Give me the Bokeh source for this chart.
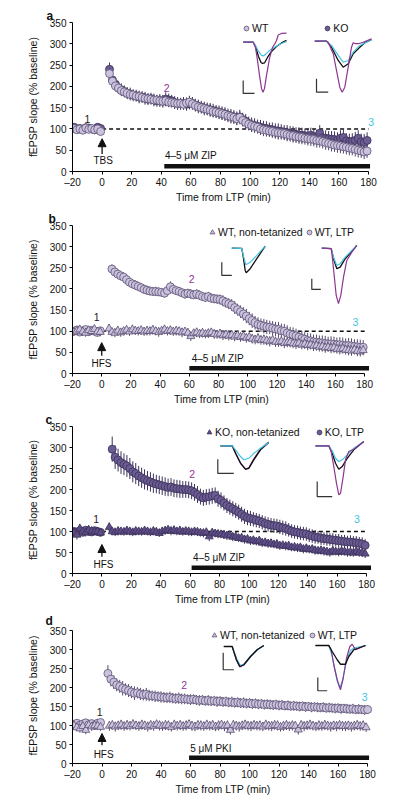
from bokeh.plotting import figure
from bokeh.layouts import column
from bokeh.models import (Range1d, FixedTicker, Label, Legend, LegendItem,
                          Arrow, NormalHead, ColumnDataSource)
from bokeh.embed import file_html
from bokeh.resources import INLINE

FONT = "Liberation Sans"

# ---------------- axes / sampling grids ----------------
X_TICKS = [-20, 0, 20, 40, 60, 80, 100, 120, 140, 160, 180]
Y_TICKS = [0, 50, 100, 150, 200, 250, 300, 350]
BASE_T = list(range(-19, 0, 2))          # baseline sample times (min)
POST_T5 = list(range(5, 180, 2))         # post-stimulus sample times
POST_T7 = list(range(7, 180, 2))
POST_T4 = list(range(4, 181, 2))
STIM_T = 0
BASELINE = 100

# ---------------- panel a: WT vs KO, TBS + ZIP ----------------
a_wt_base = [101, 98, 100, 97, 102, 99, 101, 98, 100, 94]
a_wt_post = [230, 212, 201, 196, 190, 187, 184, 181, 180, 177,
             176, 174, 172, 171, 170, 168, 168, 166, 165, 166,
             163, 162, 161, 160, 160, 158, 161, 163, 159, 155,
             152, 150, 148, 146, 144, 141, 140, 138, 136, 134,
             131, 129, 127, 124, 127, 120, 115, 111, 108, 106,
             104, 100, 98, 97, 95, 94, 92, 91, 90, 89,
             87, 85, 84, 82, 81, 80, 78, 77, 76, 75,
             73, 72, 70, 68, 66, 64, 62, 61, 60, 58,
             57, 55, 54, 52, 50, 48, 46, 48]
a_wt_err = [8, 7, 9, 7, 8, 7, 8, 8, 7, 9,
            14, 13, 12, 12, 12, 11, 12, 11, 12, 11,
            12, 11, 12, 12, 11, 12, 12, 13, 12, 13,
            12, 12, 13, 12, 13, 12, 13, 13, 12, 13,
            13, 12, 13, 13, 14, 13, 14, 13, 14, 14,
            13, 14, 14, 15, 14, 14, 15, 14, 15, 14,
            15, 14, 15, 15, 14, 15, 15, 16, 15, 15,
            16, 15, 16, 15, 16, 16, 15, 16, 16, 16,
            17, 16, 16, 17, 16, 17, 16, 17, 17, 16,
            17, 17, 16, 17, 17, 16, 17, 16]
a_ko_base = [104, 100, 101, 99, 103, 102, 100, 98, 104, 101]
a_ko_post = [240, 215, 205, 196, 192, 188, 184, 182, 179, 178,
             175, 175, 172, 170, 171, 168, 166, 167, 165, 170,
             168, 166, 162, 160, 159, 160, 158, 162, 160, 156,
             153, 151, 148, 147, 145, 143, 141, 139, 137, 135,
             132, 130, 128, 125, 128, 122, 118, 113, 110, 108,
             106, 104, 102, 101, 99, 98, 96, 95, 94, 92,
             91, 90, 88, 87, 86, 85, 84, 83, 85, 82,
             80, 90, 79, 78, 77, 76, 75, 74, 78, 80,
             72, 70, 71, 73, 78, 70, 68, 73]
a_ko_err = [9, 8, 10, 8, 9, 8, 9, 10, 8, 10,
            16, 15, 14, 14, 15, 14, 14, 15, 14, 14,
            15, 14, 15, 14, 14, 15, 14, 15, 15, 16,
            15, 14, 15, 15, 14, 15, 15, 16, 15, 15,
            16, 15, 16, 15, 16, 16, 15, 16, 16, 16,
            16, 17, 16, 16, 17, 16, 17, 16, 17, 17,
            16, 17, 17, 17, 16, 17, 17, 18, 17, 17,
            18, 17, 18, 17, 18, 18, 17, 18, 18, 19,
            18, 19, 18, 19, 18, 19, 19, 18, 19, 19,
            18, 19, 19, 20, 19, 19, 20, 19]

# ---------------- panel b: WT, HFS + ZIP ----------------
b_ltp_base = [100, 103, 98, 101, 104, 99, 102, 100, 97, 101]
b_ltp_post = [247, 240, 235, 231, 228, 222, 216, 212, 209, 206,
              203, 199, 197, 195, 194, 194, 193, 192, 190, 196,
              205, 199, 196, 194, 191, 188, 190, 188, 186, 188,
              185, 182, 180, 182, 178, 177, 176, 175, 172, 168,
              165, 162, 156, 151, 146, 141, 136, 130, 125, 120,
              116, 114, 112, 110, 109, 107, 105, 104, 101, 100,
              96, 93, 91, 89, 86, 83, 81, 78, 77, 75,
              74, 73, 72, 71, 70, 70, 69, 68, 68, 67,
              66, 66, 65, 64, 63, 62, 62]
b_ltp_err = [8, 9, 8, 9, 8, 9, 8, 9, 8, 9,
             11, 11, 10, 10, 11, 10, 10, 10, 11, 10,
             10, 10, 11, 10, 10, 11, 10, 10, 11, 12,
             13, 11, 10, 11, 10, 11, 10, 11, 10, 11,
             11, 10, 11, 11, 10, 11, 11, 12, 13, 12,
             13, 14, 15, 14, 15, 16, 17, 16, 17, 16,
             17, 16, 17, 17, 16, 17, 17, 18, 17, 17,
             18, 17, 18, 17, 17, 18, 17, 18, 18, 17,
             18, 17, 18, 18, 17, 18, 18, 17, 18, 18,
             17, 18, 18, 17, 18, 18, 17]
b_nt_base = [98, 101, 104, 99, 96, 102, 100, 105, 99, 98]
b_nt_post = [106, 98, 96, 101, 97, 100, 103, 99, 104, 101,
             100, 102, 99, 101, 100, 103, 100, 98, 101, 104,
             100, 102, 99, 101, 100, 97, 99, 96, 88, 95,
             97, 94, 96, 93, 95, 97, 93, 92, 94, 90,
             92, 89, 91, 87, 90, 86, 88, 84, 86, 82,
             80, 83, 79, 80, 78, 76, 79, 75, 74, 76,
             72, 73, 74, 71, 70, 72, 68, 70, 67, 68,
             65, 66, 63, 64, 61, 62, 60, 61, 58, 57,
             59, 56, 55, 54, 56, 53, 52, 55]
b_nt_err = [9, 10, 9, 10, 9, 10, 9, 10, 9, 10,
            11, 10, 10, 11, 10, 10, 11, 10, 11, 10,
            10, 11, 10, 11, 10, 11, 10, 11, 10, 11,
            10, 11, 10, 11, 10, 11, 10, 11, 11, 10,
            11, 10, 11, 10, 11, 10, 11, 10, 11, 11,
            11, 11, 11, 11, 11, 11, 11, 11, 11, 11,
            11, 12, 11, 12, 11, 12, 11, 12, 11, 12,
            12, 11, 12, 11, 12, 12, 11, 12, 12, 11,
            12, 12, 11, 12, 12, 11, 12, 12, 11, 12,
            12, 11, 12, 12, 11, 12, 12, 12]

# ---------------- panel c: KO, HFS + ZIP ----------------
c_ltp_base = [100, 99, 101, 98, 103, 100, 99, 102, 100, 98]
c_ltp_post = [296, 277, 270, 264, 260, 256, 250, 242, 238, 232,
              228, 224, 221, 218, 215, 213, 211, 209, 207, 205,
              206, 203, 202, 201, 200, 200, 199, 197, 193, 188,
              183, 180, 182, 183, 185, 186, 178, 174, 168, 162,
              158, 154, 150, 146, 141, 136, 133, 131, 129, 127,
              125, 122, 119, 117, 115, 114, 113, 111, 109, 107,
              104, 101, 99, 98, 96, 95, 94, 91, 89, 87,
              86, 84, 83, 82, 81, 80, 79, 78, 77, 76,
              75, 75, 74, 73, 72, 70, 67]
c_ltp_err = [9, 8, 9, 8, 9, 8, 9, 8, 9, 8,
             30, 28, 27, 27, 26, 26, 25, 25, 25, 24,
             24, 24, 23, 23, 23, 22, 22, 22, 22, 21,
             21, 21, 21, 21, 20, 20, 20, 20, 20, 20,
             19, 19, 19, 19, 19, 19, 19, 19, 18, 18,
             18, 18, 18, 18, 18, 18, 18, 18, 17, 17,
             17, 17, 17, 17, 17, 17, 17, 17, 17, 17,
             16, 16, 16, 16, 16, 16, 16, 16, 16, 16,
             15, 16, 15, 16, 15, 16, 15, 16, 15, 16,
             15, 16, 15, 16, 15, 16, 15]
c_nt_base = [97, 92, 107, 100, 98, 104, 101, 99, 100, 97]
c_nt_post = [110, 100, 98, 101, 100, 99, 102, 100, 98, 101,
             100, 99, 102, 100, 98, 101, 99, 96, 100, 102,
             104, 101, 103, 100, 102, 99, 101, 100, 98, 100,
             99, 97, 96, 98, 88, 97, 95, 94, 93, 92,
             90, 91, 87, 88, 84, 85, 81, 82, 78, 79,
             76, 78, 73, 74, 71, 72, 69, 70, 66, 67,
             65, 66, 62, 63, 61, 62, 58, 60, 57, 58,
             55, 54, 55, 53, 52, 50, 54, 52, 51, 53,
             52, 50, 51, 49, 53, 50, 49, 47]
c_nt_err = [8, 11, 9, 8, 10, 8, 9, 8, 9, 8,
            11, 9, 9, 10, 9, 9, 10, 9, 9, 10,
            9, 9, 10, 9, 9, 10, 9, 9, 10, 9,
            9, 10, 9, 9, 10, 9, 9, 10, 9, 9,
            10, 9, 10, 9, 11, 10, 9, 10, 9, 10,
            10, 9, 10, 10, 9, 10, 10, 9, 10, 10,
            9, 10, 10, 9, 10, 10, 9, 10, 10, 9,
            10, 10, 9, 10, 10, 9, 10, 10, 9, 10,
            10, 9, 10, 10, 9, 10, 10, 9, 10, 10,
            9, 10, 10, 9, 10, 10, 9, 10]

# ---------------- panel d: WT, HFS + PKI ----------------
d_ltp_base = [103, 106, 101, 104, 107, 102, 105, 100, 106, 108]
d_ltp_post = [237, 222, 214, 207, 203, 198, 195, 192, 188, 185,
              186, 183, 181, 182, 179, 178, 177, 176, 175, 174,
              173, 174, 172, 171, 172, 170, 170, 169, 168, 169,
              167, 166, 167, 165, 166, 164, 165, 163, 164, 162,
              163, 161, 162, 160, 161, 159, 160, 158, 159, 157,
              158, 156, 157, 155, 156, 155, 154, 155, 153, 154,
              152, 153, 151, 152, 151, 150, 151, 149, 150, 148,
              149, 148, 147, 148, 146, 147, 146, 145, 146, 144,
              145, 144, 143, 144, 142, 143, 142, 141, 142]
d_ltp_err = [10, 9, 10, 9, 10, 9, 10, 9, 10, 9,
             22, 19, 18, 17, 17, 19, 16, 17, 16, 18,
             15, 16, 15, 17, 15, 14, 15, 14, 15, 14,
             14, 15, 14, 14, 15, 14, 14, 13, 14, 13,
             13, 14, 13, 13, 14, 13, 13, 14, 13, 13,
             13, 13, 14, 13, 13, 13, 14, 13, 13, 13,
             13, 13, 13, 13, 13, 13, 13, 13, 13, 13,
             12, 13, 12, 13, 12, 13, 12, 13, 12, 13,
             12, 13, 12, 13, 12, 13, 12, 13, 12, 13,
             12, 13, 12, 13, 12, 13, 12, 13, 12]
d_nt_base = [100, 95, 92, 98, 88, 101, 97, 100, 99, 96]
d_nt_post = [99, 101, 97, 100, 102, 98, 101, 99, 103, 100,
             98, 102, 100, 97, 101, 99, 103, 100, 98, 101,
             100, 96, 102, 99, 101, 98, 100, 103, 99, 97,
             101, 100, 98, 102, 99, 101, 97, 100, 102, 98,
             100, 88, 101, 99, 97, 100, 102, 99, 98, 101,
             99, 100, 97, 102, 99, 98, 101, 100, 96, 99,
             101, 98, 100, 99, 89, 101, 98, 100, 102, 99,
             97, 100, 98, 101, 99, 97, 100, 98, 101, 99,
             98, 100, 97, 99, 101, 98, 100, 95]
d_nt_err = [11, 10, 11, 10, 11, 10, 11, 10, 11, 10,
            13, 12, 13, 12, 13, 12, 13, 12, 13, 12,
            12, 13, 12, 13, 12, 13, 12, 13, 12, 13,
            13, 12, 13, 12, 13, 12, 13, 12, 13, 12,
            12, 13, 12, 13, 12, 13, 12, 13, 12, 13,
            13, 12, 13, 12, 13, 12, 13, 12, 13, 12,
            12, 13, 12, 13, 12, 13, 12, 13, 12, 13,
            13, 12, 13, 12, 13, 12, 13, 12, 13, 12,
            12, 13, 12, 13, 12, 13, 12, 13, 12, 13,
            13, 12, 13, 12, 13, 12, 13, 12]

# ---------------- drug application windows (min) ----------------
a_drug = (42, 181)
b_drug = (60, 183)
c_drug = (61, 183)
d_drug = (59, 181)

# ---------------- example fEPSP traces (ms, mV) ----------------
A_WT = {
    "black": ([0, 2.0, 2.46, 3.06, 3.56, 3.86, 4.26, 4.86, 5.66, 6.66, 7.66, 8.66],
              [0, 0, -0.17, -0.57, -0.81, -0.85, -0.83, -0.61, -0.37, -0.17, -0.03, 0.07]),
    "cyan": ([0, 2.0, 2.46, 3.06, 3.66, 4.06, 4.66, 5.26, 6.06, 6.86, 7.66, 8.66],
             [0, 0, -0.13, -0.37, -0.53, -0.55, -0.45, -0.33, -0.23, -0.13, -0.05, 0.03]),
    "purple": ([0, 2.0, 2.46, 2.86, 3.26, 3.66, 3.96, 4.26, 4.66, 5.26, 5.86, 6.32, 6.66, 7.0, 7.66, 8.66],
               [0, 0, -0.21, -0.73, -1.33, -1.85, -2.0, -1.85, -1.33, -0.65, -0.21, -0.06, 0.07, 0.29, 0.35, 0.36]),
    "bar": ([0, 0, 2.26], [-1.53, -2.05, -2.05]),
}
A_KO = {
    "black": ([0, 2.34, 3.34, 4.68, 5.68, 6.68, 7.68, 9.0, 10.0, 11.34],
              [0, 0, -0.24, -0.77, -1.04, -0.90, -0.50, -0.24, -0.06, 0.06]),
    "cyan": ([0, 2.34, 3.34, 4.68, 5.68, 6.68, 7.68, 9.0, 11.34],
             [0, 0, -0.17, -0.57, -0.84, -0.77, -0.44, -0.17, 0.06]),
    "purple": ([0, 2.34, 2.68, 3.68, 4.34, 5.0, 5.48, 6.0, 6.68, 7.34, 7.68, 8.14, 8.68, 9.68, 11.34],
               [0, 0, -0.04, -0.5, -1.17, -1.84, -2.04, -1.84, -1.04, -0.24, -0.06, -0.1, -0.1, -0.04, 0.10]),
    "bar": ([0.34, 0.34, 2.68], [-1.5, -2.04, -2.04]),
}
B_NT = {
    "black": ([0, 2.0, 2.34, 2.68, 2.88, 3.68, 5.0, 6.68],
              [0, -0.01, -0.41, -0.89, -0.98, -0.82, -0.42, 0.08]),
    "cyan": ([0, 2.0, 2.34, 2.8, 3.68, 5.0, 6.68],
             [0, -0.01, -0.33, -0.66, -0.56, -0.29, 0.08]),
    "bar": ([-2.0, -2.0, 0], [-0.56, -1.09, -1.09]),
}
B_L = {
    "black": ([0, 1.88, 2.34, 3.0, 3.68, 4.68, 6.0, 7.0],
              [0, -0.02, -0.42, -0.82, -0.76, -0.42, -0.13, 0.11]),
    "cyan": ([0, 1.88, 2.34, 3.0, 3.68, 4.68, 6.0, 7.0],
             [0, -0.02, -0.36, -0.69, -0.62, -0.36, -0.09, 0.11]),
    "purple": ([0, 1.88, 2.0, 2.48, 2.88, 3.34, 3.8, 4.34, 5.0, 6.0, 7.0],
               [0, -0.02, -0.16, -1.09, -1.89, -2.22, -1.89, -1.16, -0.49, -0.16, 0.11]),
    "bar": ([-2.0, -2.0, -0.2], [-1.22, -1.65, -1.65]),
}
C_NT = {
    "purple": ([0, 2.34, 3.0, 4.0, 5.0, 5.66, 6.66, 8.0, 9.66],
               [0, 0, -0.28, -0.68, -0.92, -0.88, -0.52, -0.12, 0.15]),
    "black": ([0, 2.34, 3.0, 4.0, 5.0, 5.66, 6.66, 8.0, 9.66],
              [0, 0, -0.30, -0.70, -0.94, -0.90, -0.56, -0.16, 0.13]),
    "cyan": ([0, 2.34, 3.0, 4.0, 4.66, 5.66, 6.66, 8.0, 9.66],
             [0, 0, -0.16, -0.43, -0.56, -0.50, -0.30, -0.10, 0.13]),
    "bar": ([-0.54, -0.54, 2.66], [-0.54, -1.10, -1.10]),
}
C_L = {
    "black": ([0, 2.66, 3.34, 4.0, 4.66, 5.34, 6.34, 7.66, 9.66],
              [0, 0, -0.30, -0.70, -0.94, -0.83, -0.50, -0.16, 0.17]),
    "cyan": ([0, 2.66, 3.34, 4.0, 4.66, 5.34, 6.34, 7.66, 9.66],
             [0, 0, -0.20, -0.50, -0.63, -0.56, -0.36, -0.10, 0.17]),
    "purple": ([0, 2.66, 3.14, 3.66, 4.2, 4.66, 5.0, 5.54, 6.0, 6.66, 7.66, 9.66],
               [0, 0, -0.23, -0.83, -1.50, -1.96, -1.90, -1.23, -0.56, -0.23, -0.14, 0.17]),
    "bar": ([0.34, 0.34, 3.34], [-1.43, -2.03, -2.03]),
}
D_NT = {
    "purple": ([0, 1.68, 2.0, 2.54, 3.2, 4.0, 5.34, 6.68, 8.0],
               [0, 0, -0.21, -0.55, -0.82, -0.74, -0.41, -0.13, 0.04]),
    "cyan": ([0, 1.68, 2.0, 2.6, 3.3, 4.1, 5.4, 6.7, 8.0],
             [0, 0, -0.18, -0.5, -0.76, -0.7, -0.38, -0.12, 0.04]),
    "black": ([0, 1.68, 2.0, 2.54, 3.2, 4.0, 5.34, 6.68, 8.0],
              [0, 0, -0.2, -0.53, -0.8, -0.73, -0.4, -0.13, 0.04]),
    "bar": ([-0.12, -0.12, 2.0], [-0.25, -0.93, -0.93]),
}
D_L = {
    "cyan": ([0, 2.66, 3.3, 3.9, 4.4, 4.86, 5.4, 6.2, 7.0, 7.66, 10.0],
             [0, 0, -0.4, -1.0, -1.45, -1.7, -1.4, -0.6, -0.2, -0.1, 0]),
    "purple": ([0, 2.66, 3.14, 3.66, 4.34, 5.0, 5.54, 6.2, 6.86, 7.34, 8.0, 10.0],
               [0, 0, -0.17, -0.77, -1.37, -1.77, -1.31, -0.51, -0.04, 0.05, -0.17, 0]),
    "black": ([0, 2.66, 3.34, 4.34, 5.0, 6.0, 6.66, 7.66, 10.0],
              [0, 0, -0.24, -0.57, -0.75, -0.75, -0.44, -0.17, 0]),
    "bar": ([0.46, 0.46, 2.34], [-1.28, -1.81, -1.81]),
}

# ---------------- style ----------------
LIGHT_FILL, LIGHT_EDGE = "#cbc3de", "#5d5275"
DARK_FILL, DARK_EDGE = "#6c5c94", "#3b3158"
ERR_LIGHT, ERR_DARK = "#554a6c", "#3b3158"
PURPLE, CYAN = "#8e3592", "#45c3e2"
TR_SX, TR_SY = 5.0, 25.0   # px per ms, px per mV for inset traces
X_END = 184


def make_fig(g, letter):
    y_end = 350.0 * g["fh"] / g["fa"]
    p = figure(frame_width=g["fw"], frame_height=g["fh"],
               min_border_left=g["bl"], min_border_right=g["br"],
               min_border_top=g["bt"], min_border_bottom=g["bb"],
               x_range=Range1d(-20, X_END), y_range=Range1d(0, y_end),
               title=letter, output_backend="svg",
               toolbar_location=None, tools="")
    p.title.align = "left"
    p.title.offset = 45 - g["bl"]
    p.title.standoff = 0
    p.title.text_font = FONT
    p.title.text_font_size = "12px"
    p.title.text_font_style = "bold"
    p.title.text_color = "#111111"
    p.outline_line_color = None
    p.grid.visible = False
    p.xaxis.ticker = FixedTicker(ticks=X_TICKS)
    p.yaxis.ticker = FixedTicker(ticks=Y_TICKS)
    p.xaxis.bounds = (-20, 180)
    p.yaxis.bounds = (0, 350)
    p.xaxis.major_label_overrides = {-20: "\u201320"}
    for ax in (p.xaxis[0], p.yaxis[0]):
        ax.major_tick_out = 3
        ax.major_tick_in = 0
        ax.minor_tick_out = 0
        ax.minor_tick_in = 0
        ax.axis_line_color = "black"
        ax.axis_line_width = 1
        ax.major_tick_line_color = "black"
        ax.major_label_text_font = FONT
        ax.major_label_text_font_size = "10px"
        ax.major_label_text_color = "#111111"
        ax.axis_label_text_font = FONT
        ax.axis_label_text_font_size = "10.5px"
        ax.axis_label_text_font_style = "normal"
        ax.axis_label_text_color = "#111111"
    p.xaxis.axis_label = "Time from LTP (min)"
    p.yaxis.axis_label = "fEPSP slope (% baseline)"
    p.xaxis.major_label_standoff = 2
    p.xaxis.axis_label_standoff = 0
    p.yaxis.major_label_standoff = 3
    p.yaxis.axis_label_standoff = 8
    return p


def add_series(p, t, v, e, marker, size, fill, edge, err_color):
    n = min(len(t), len(v), len(e))
    t, v, e = t[:n], v[:n], e[:n]
    src = ColumnDataSource(dict(t=t, v=v,
                                lo=[a - b for a, b in zip(v, e)],
                                hi=[a + b for a, b in zip(v, e)]))
    p.segment(x0="t", y0="lo", x1="t", y1="hi", source=src,
              line_color=err_color, line_width=1)
    return p.scatter(x="t", y="v", source=src, marker=marker, size=size,
                     fill_color=fill, line_color=edge, line_width=0.8)


def add_insets(p, g, insets):
    xr, yr = {}, {}
    for key, (fx, fy), _ in insets:
        xr[key] = Range1d(-fx / TR_SX, (g["fw"] - fx) / TR_SX)
        yr[key] = Range1d(-fy / TR_SY, (g["fh"] - fy) / TR_SY)
    p.extra_x_ranges = xr
    p.extra_y_ranges = yr
    colors = {"purple": (PURPLE, 1.2), "cyan": (CYAN, 1.2), "black": ("#111111", 1.3)}
    for key, _, tr in insets:
        for name, (t, v) in tr.items():
            if name == "bar":
                p.line(t, v, x_range_name=key, y_range_name=key,
                       line_color="#333333", line_width=1.2)
            else:
                c, w = colors[name]
                p.line(t, v, x_range_name=key, y_range_name=key,
                       line_color=c, line_width=w)


def txt(p, x, y, s, color="#111111", size="10.5px", align="center"):
    p.add_layout(Label(x=x, y=y, text=s, text_font=FONT, text_font_size=size,
                       text_color=color, text_align=align, text_baseline="middle"))


def decorate(p, nums, stim_label, stim_xy, arrow_y, drug, drug_y, drug_label,
             drug_label_xy, dashed):
    if dashed:
        p.segment(x0=[STIM_T], y0=[BASELINE], x1=[180], y1=[BASELINE],
                  line_color="#111111", line_width=1.4, line_dash="4 3", level="underlay")
    p.segment(x0=[drug[0]], y0=[drug_y], x1=[drug[1]], y1=[drug_y],
              line_color="#111111", line_width=4.5, line_cap="butt")
    txt(p, drug_label_xy[0], drug_label_xy[1], drug_label, size="10px", align="left")
    p.add_layout(Arrow(end=NormalHead(size=8, fill_color="#111111", line_color="#111111", line_width=1),
                       x_start=STIM_T, y_start=arrow_y[0], x_end=STIM_T, y_end=arrow_y[1],
                       line_color="#111111", line_width=1.3))
    txt(p, stim_xy[0], stim_xy[1], stim_label, size="10px")
    (x1, y1), (x2, y2), (x3, y3) = nums
    txt(p, x1, y1, "1", color="#222222")
    txt(p, x2, y2, "2", color=PURPLE)
    txt(p, x3, y3, "3", color=CYAN)


def add_legend(p, items, loc, spacing):
    leg = Legend(items=[LegendItem(label=l, renderers=[r]) for l, r in items],
                 location=loc, orientation="horizontal", glyph_width=12, glyph_height=14,
                 label_height=14, label_width=10, label_standoff=0, spacing=spacing,
                 padding=0, margin=0, border_line_color=None, background_fill_alpha=0,
                 label_text_font=FONT, label_text_font_size="10.5px", label_text_color="#111111")
    p.add_layout(leg)


# fa = pixel height of the 0-350 axis; fh = frame height
GEOM = {
    "a": dict(bl=71, fw=302, br=27, bt=22, fh=149, fa=149, bb=34),
    "b": dict(bl=69, fw=298, br=33, bt=20, fh=148, fa=148, bb=33),
    "c": dict(bl=72, fw=300, br=28, bt=19, fh=147, fa=147, bb=34),
    "d": dict(bl=72, fw=301, br=27, bt=20, fh=136, fa=133, bb=34),
}

# ---- panel a ----
g = GEOM["a"]
pa = make_fig(g, "a")
decorate(pa, [(-9.9, 124), (43.6, 195), (181.8, 116)],
         "TBS", (0.7, 26), (41, 77), a_drug, 12.5, "4\u20135 \u03bcM ZIP", (42.4, 37.6), True)
r_ko = add_series(pa, BASE_T + POST_T5, a_ko_base + a_ko_post, a_ko_err,
                  "circle", 8, DARK_FILL, DARK_EDGE, ERR_DARK)
r_wt = add_series(pa, BASE_T + POST_T5, a_wt_base + a_wt_post, a_wt_err,
                  "circle", 8, LIGHT_FILL, LIGHT_EDGE, ERR_LIGHT)
add_insets(pa, g, [("awt", (170.7, 129.3), A_WT), ("ako", (242.3, 130.3), A_KO)])
add_legend(pa, [("WT", r_wt), ("KO", r_ko)], (168, 136), 53)

# ---- panel b ----
g = GEOM["b"]
pb = make_fig(g, "b")
decorate(pb, [(-3.5, 133), (61.6, 224), (173.6, 121)],
         "HFS", (-0.2, 24), (42, 73), b_drug, 12.6, "4\u20135 \u03bcM ZIP", (61.6, 36), True)
r_bl = add_series(pb, BASE_T + POST_T7, b_ltp_base + b_ltp_post, b_ltp_err,
                  "circle", 8, LIGHT_FILL, LIGHT_EDGE, ERR_LIGHT)
r_bn = add_series(pb, BASE_T + POST_T5, b_nt_base + b_nt_post, b_nt_err,
                  "triangle", 8, LIGHT_FILL, LIGHT_EDGE, ERR_LIGHT)
add_insets(pb, g, [("bnt", (159.3, 125.3), B_NT), ("bl", (249.3, 125.3), B_L)])
add_legend(pb, [("WT, non-tetanized", r_bn), ("WT, LTP", r_bl)], (134, 134), 0)

# ---- panel c ----
g = GEOM["c"]
pc = make_fig(g, "c")
decorate(pc, [(-3.9, 129), (61.4, 237), (173.4, 129)],
         "HFS", (1.1, 22), (40, 69), c_drug, 13.4, "4\u20135 \u03bcM ZIP", (62, 37), True)
r_cl = add_series(pc, BASE_T + POST_T7, c_ltp_base + c_ltp_post, c_ltp_err,
                  "circle", 8, DARK_FILL, DARK_EDGE, ERR_DARK)
r_cn = add_series(pc, BASE_T + POST_T5, c_nt_base + c_nt_post, c_nt_err,
                  "triangle", 8, "#5e4d88", DARK_EDGE, ERR_DARK)
add_insets(pc, g, [("cnt", (148, 127.7), C_NT), ("cl", (243, 127.7), C_L)])
add_legend(pc, [("KO, non-tetanized", r_cn), ("KO, LTP", r_cl)], (131, 134), 13)

# ---- panel d ----
g = GEOM["d"]
pd_ = make_fig(g, "d")
decorate(pd_, [(-1.6, 136), (55.7, 207), (178, 176)],
         "HFS", (1.1, 24), (48, 79), d_drug, 15, "5 \u03bcM PKI", (59.8, 39.6), False)
r_dl = add_series(pd_, BASE_T + POST_T4, d_ltp_base + d_ltp_post, d_ltp_err,
                  "circle", 8, LIGHT_FILL, LIGHT_EDGE, ERR_LIGHT)
r_dn = add_series(pd_, BASE_T + POST_T5, d_nt_base + d_nt_post, d_nt_err,
                  "triangle", 8, LIGHT_FILL, LIGHT_EDGE, ERR_LIGHT)
add_insets(pd_, g, [("dnt", (151.3, 117), D_NT), ("dl", (243, 118), D_L)])
add_legend(pd_, [("WT, non-tetanized", r_dn), ("WT, LTP", r_dl)], (136, 121), 1)

layout = column(pa, pb, pc, pd_, spacing=0)
open("out.html", "w").write(file_html(layout, INLINE))
